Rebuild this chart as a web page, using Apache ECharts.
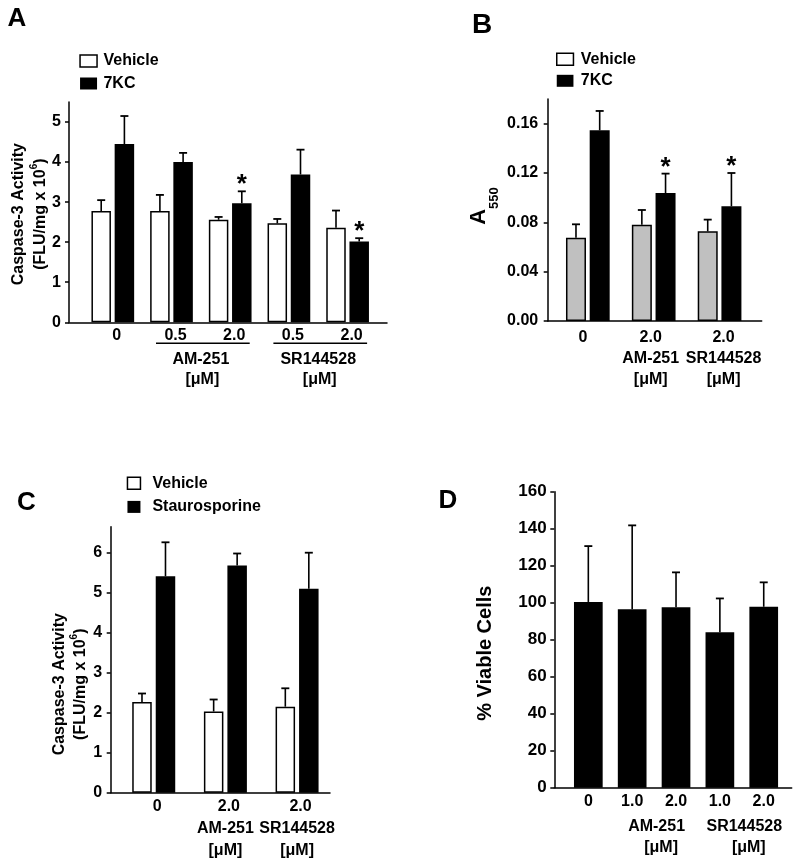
<!DOCTYPE html>
<html><head><meta charset="utf-8">
<script src="https://cdn.jsdelivr.net/npm/echarts@6/dist/echarts.min.js"></script>
<style>html,body{margin:0;padding:0;background:#fff}#c{width:800px;height:866px}</style>
</head><body><div id="c"></div>
<script>
const FONT = "'Liberation Sans', Arial, Helvetica, sans-serif";
const UNIT = '[μM]';

// ---------- Panel A : Caspase-3, 7KC ----------
const catsA = ['0', '0.5', '2.0', '0.5', '2.0'];
const vehicleA = [2.78, 2.78, 2.56, 2.47, 2.36];
const vehicleErrA = [0.27, 0.40, 0.07, 0.11, 0.43];
const kcA = [4.45, 4.00, 2.97, 3.69, 2.02];
const kcErrA = [0.70, 0.23, 0.30, 0.62, 0.08];
const kcSigA = [false, false, true, false, true];
const ticksA = [0, 1, 2, 3, 4, 5];
const groupNamesA = ['AM-251', 'SR144528'];
const groupSpansA = [[1, 2], [3, 4]];

// ---------- Panel B : A550, 7KC ----------
const catsB = ['0', '2.0\nAM-251\n' + UNIT, '2.0\nSR144528\n' + UNIT];
const vehicleB = [0.0676, 0.0781, 0.0727];
const vehicleErrB = [0.0108, 0.0119, 0.0095];
const kcB = [0.1546, 0.1038, 0.0930];
const kcErrB = [0.0157, 0.0157, 0.0270];
const kcSigB = [false, true, true];
const ticksB = [0, 0.04, 0.08, 0.12, 0.16];

// ---------- Panel C : Caspase-3, Staurosporine ----------
const catsC = ['0', '2.0\nAM-251\n' + UNIT, '2.0\nSR144528\n' + UNIT];
const vehicleC = [2.27, 2.03, 2.15];
const vehicleErrC = [0.21, 0.30, 0.46];
const stauC = [5.41, 5.68, 5.10];
const stauErrC = [0.85, 0.30, 0.90];
const ticksC = [0, 1, 2, 3, 4, 5, 6];

// ---------- Panel D : % viable cells ----------
const catsD = ['0', '1.0', '2.0', '1.0', '2.0'];
const viableD = [100.4, 96.4, 97.5, 84.0, 97.8];
const viableErrD = [30.2, 45.4, 18.9, 18.3, 13.2];
const ticksD = [0, 20, 40, 60, 80, 100, 120, 140, 160];
const groupNamesD = ['AM-251', 'SR144528'];
const groupSpansD = [[1, 2], [3, 4]];

const option = {
  animation: false, backgroundColor: '#fff',
  grid: [], xAxis: [], yAxis: [], series: [], legend: [], graphic: []
};
const BLACK = '#000';
const lineStyle = { color: BLACK, width: 1.5 };

function addPanel(p) {
  const gi = option.grid.length;
  option.grid.push({ left: p.axisX, top: p.top, width: p.axisRight - p.axisX, height: p.bottom - p.top });
  option.grid.push({ left: p.plotLeft, top: p.top, width: p.plotWidth, height: p.bottom - p.top });
  const xi = option.xAxis.length;
  option.xAxis.push({ gridIndex: gi, type: 'value', min: 0, max: 1,
    axisLine: { show: true, onZero: false, lineStyle }, axisTick: { show: false },
    axisLabel: { show: false }, splitLine: { show: false } });
  option.xAxis.push({ gridIndex: gi + 1, type: 'category', data: p.cats,
    axisLine: { show: false }, axisTick: { show: false },
    axisLabel: Object.assign({ interval: 0, color: BLACK, fontFamily: FONT, fontWeight: 'bold', fontSize: 16 }, p.xLabel) });
  const yi = option.yAxis.length;
  option.yAxis.push({ gridIndex: gi, type: 'value', min: p.min, max: p.max,
    axisLine: { show: true, onZero: false, lineStyle },
    axisTick: { show: true, length: 4, customValues: p.ticks, lineStyle },
    axisLabel: { customValues: p.ticks, formatter: p.fmt, margin: p.labelMargin, color: BLACK,
      fontFamily: FONT, fontWeight: 'bold', fontSize: p.tickFont },
    splitLine: { show: false },
    name: p.name, nameLocation: 'middle', nameRotate: 90, nameGap: p.nameGap,
    nameTextStyle: p.nameStyle });
  option.yAxis.push({ gridIndex: gi + 1, type: 'value', min: p.min, max: p.max, show: false });
  return { x: xi + 1, y: yi + 1, min: p.min };
}

function barSeries(ax, name, vals, w, gap, itemStyle) {
  return { type: 'bar', name, xAxisIndex: ax.x, yAxisIndex: ax.y, data: vals, barWidth: w,
    barGap: gap, itemStyle, silent: true, z: 2 };
}

function errorSeries(ax, vals, errs, offset) {
  return { type: 'custom', xAxisIndex: ax.x, yAxisIndex: ax.y, silent: true, clip: false, z: 5,
    data: vals.map((v, i) => [i, v, v + errs[i]]),
    encode: { x: 0, y: [1, 2] },
    renderItem: (params, api) => {
      const a = api.coord([api.value(0), api.value(1)]);
      const b = api.coord([api.value(0), api.value(2)]);
      const x = a[0] + offset;
      return { type: 'group', children: [
        { type: 'line', shape: { x1: x, y1: a[1], x2: x, y2: b[1] }, style: { stroke: BLACK, lineWidth: 1.6 } },
        { type: 'line', shape: { x1: x - 4, y1: b[1], x2: x + 4, y2: b[1] }, style: { stroke: BLACK, lineWidth: 1.8 } }
      ] };
    } };
}

function starSeries(ax, vals, errs, sig, offset) {
  const data = [];
  vals.forEach((v, i) => { if (sig[i]) data.push([i, v + errs[i]]); });
  return { type: 'custom', xAxisIndex: ax.x, yAxisIndex: ax.y, silent: true, clip: false, z: 6,
    data, encode: { x: 0, y: 1 },
    renderItem: (params, api) => {
      const a = api.coord([api.value(0), api.value(1)]);
      return { type: 'text', x: a[0] + offset, y: a[1] - 6,
        style: { text: '*', fill: BLACK, font: 'bold 26px ' + FONT, textAlign: 'center', textVerticalAlign: 'middle' } };
    } };
}

function groupSeries(ax, spans, names, o) {
  return { type: 'custom', xAxisIndex: ax.x, yAxisIndex: ax.y, silent: true, clip: false, z: 6,
    data: spans.map(s => [s[0], ax.min, s[1]]), encode: { x: 0, y: 1 },
    renderItem: (params, api) => {
      const a = api.coord([api.value(0), ax.min]);
      const b = api.coord([api.value(2), ax.min]);
      const mid = (a[0] + b[0]) / 2;
      const font = 'bold 16px ' + FONT;
      const ch = [];
      if (o.line) ch.push({ type: 'line', shape: { x1: a[0] - o.extL, y1: a[1] + o.lineDy, x2: b[0] + o.extR, y2: a[1] + o.lineDy },
        style: { stroke: BLACK, lineWidth: 1.5 } });
      ch.push({ type: 'text', x: mid + o.nameDx, y: a[1] + o.nameDy,
        style: { text: names[params.dataIndex], fill: BLACK, font, textAlign: 'center', textVerticalAlign: 'middle' } });
      ch.push({ type: 'text', x: mid + o.unitDx, y: a[1] + o.unitDy,
        style: { text: UNIT, fill: BLACK, font, textAlign: 'center', textVerticalAlign: 'middle' } });
      return { type: 'group', children: ch };
    } };
}

function legend(left, top, w, gap, pad, items) {
  return { left, top, orient: 'vertical', icon: 'rect', itemWidth: w, itemHeight: 12, itemGap: gap,
    selectedMode: false, padding: 0,
    textStyle: { color: BLACK, fontFamily: FONT, fontWeight: 'bold', fontSize: 16, lineHeight: 16, padding: [0, 0, 0, pad] },
    data: items };
}
// shift a category label horizontally (positive = right) via padding
function shifted(value, dx, extra) {
  const pad = dx >= 0 ? [0, 0, 0, 2 * dx] : [0, -2 * dx, 0, 0];
  return { value, textStyle: Object.assign({ padding: pad }, extra || {}) };
}
const vehicleLegend = { name: 'Vehicle', itemStyle: { color: '#fff', borderColor: BLACK, borderWidth: 1.5 } };
const whiteBar = { color: '#fff', borderColor: BLACK, borderWidth: 1.5 };
const greyBar = { color: '#c0c0c0', borderColor: BLACK, borderWidth: 1.5 };
const blackBar = { color: BLACK };

const casRich = {
  t: { fontFamily: FONT, fontWeight: 'bold', fontSize: 16, color: BLACK, verticalAlign: 'bottom' },
  s: { fontFamily: FONT, fontWeight: 'bold', fontSize: 10, lineHeight: 10, color: BLACK, verticalAlign: 'bottom', padding: [0, 0, 9, 0] }
};
const casName = '{t|Caspase-3 Activity}\n{t|(FLU/mg x 10}{s|6}{t|)}';

// ----- Panel A -----
const axA = addPanel({ axisX: 69, axisRight: 387, top: 102, bottom: 322.3, min: 0, max: 5.5,
  plotLeft: 83.45, plotWidth: 293.5, cats: catsA, ticks: ticksA, fmt: v => String(v), labelMargin: 8, tickFont: 16,
  xLabel: { margin: 5, padding: [0, 0, 0, 8] },
  name: casName, nameGap: 17,
  nameStyle: { lineHeight: 22, padding: [0, 4, 0, 0], rich: Object.assign({}, casRich, { t: Object.assign({}, casRich.t, { lineHeight: 22 }) }) } });
const wA = 19.5, gA = 3.7, offA = (wA + gA) / 2;
option.series.push(barSeries(axA, 'Vehicle', vehicleA, wA, (gA / wA * 100) + '%', whiteBar));
option.series.push(barSeries(axA, '7KC', kcA, wA, (gA / wA * 100) + '%', blackBar));
option.series.push(errorSeries(axA, vehicleA, vehicleErrA, -offA));
option.series.push(errorSeries(axA, kcA, kcErrA, offA));
option.series.push(starSeries(axA, kcA, kcErrA, kcSigA, offA));
option.series.push(groupSeries(axA, groupSpansA, groupNamesA,
  { line: true, extL: 15.5, extR: 19.5, lineDy: 21, nameDy: 37, nameDx: 0, unitDy: 57, unitDx: 1.5 }));
option.legend.push(legend(79.3, 53, 17, 6.5, 1.4, [vehicleLegend, { name: '7KC', itemStyle: blackBar }]));

// ----- Panel B -----
const axB = addPanel({ axisX: 547.7, axisRight: 761.7, top: 99, bottom: 321, min: 0, max: 0.18,
  plotLeft: 554.9, plotWidth: 197.6, cats: [shifted(catsB[0], -5), shifted(catsB[1], -3), shifted(catsB[2], 4)],
  ticks: ticksB, fmt: v => v.toFixed(2), labelMargin: 9.5, tickFont: 16,
  xLabel: { margin: 6.5, lineHeight: 21 },
  name: '{a|A}{s|550}', nameGap: 47,
  nameStyle: { padding: [0, 0, 0, 8], rich: {
    a: { fontFamily: FONT, fontWeight: 'bold', fontSize: 22, lineHeight: 22, color: BLACK, verticalAlign: 'bottom', padding: [0, 0, 11, 0] },
    s: { fontFamily: FONT, fontWeight: 'bold', fontSize: 13, lineHeight: 13, color: BLACK, verticalAlign: 'bottom' } } } });
const wB = 20, gB = 3.7, offB = (wB + gB) / 2;
option.series.push(barSeries(axB, 'Vehicle', vehicleB, wB, (gB / wB * 100) + '%', greyBar));
option.series.push(barSeries(axB, '7KC', kcB, wB, (gB / wB * 100) + '%', blackBar));
option.series.push(errorSeries(axB, vehicleB, vehicleErrB, -offB));
option.series.push(errorSeries(axB, kcB, kcErrB, offB));
option.series.push(starSeries(axB, kcB, kcErrB, kcSigB, offB));
option.legend.push(legend(556, 51.3, 16.7, 5.5, 2.3, [vehicleLegend, { name: '7KC', itemStyle: blackBar }]));

// ----- Panel C -----
const richC = {
  f: { fontFamily: FONT, fontWeight: 'bold', fontSize: 16, lineHeight: 22, color: BLACK, padding: [0, 0, 0, 7] },
  g: { fontFamily: FONT, fontWeight: 'bold', fontSize: 16, lineHeight: 22, color: BLACK }
};
const axC = addPanel({ axisX: 110.7, axisRight: 330, top: 526.7, bottom: 792.7, min: 0, max: 6.65,
  plotLeft: 117.9, plotWidth: 215, cats: catsC, ticks: ticksC, fmt: v => String(v), labelMargin: 8.5, tickFont: 16,
  xLabel: { margin: 3, lineHeight: 22, rich: richC,
    formatter: v => v.split('\n').map((s, i) => (i === 0 ? '{f|' : '{g|') + s + '}').join('\n') },
  name: casName, nameGap: 22,
  nameStyle: { lineHeight: 21, padding: [0, 49, 0, 0], rich: Object.assign({}, casRich, { t: Object.assign({}, casRich.t, { lineHeight: 21 }) }) } });
const wC = 19.5, gC = 4, offC = (wC + gC) / 2;
option.series.push(barSeries(axC, 'Vehicle', vehicleC, wC, (gC / wC * 100) + '%', whiteBar));
option.series.push(barSeries(axC, 'Staurosporine', stauC, wC, (gC / wC * 100) + '%', blackBar));
option.series.push(errorSeries(axC, vehicleC, vehicleErrC, -offC));
option.series.push(errorSeries(axC, stauC, stauErrC, offC));
option.legend.push(legend(126.7, 475.3, 13, 7.6, 7, [vehicleLegend, { name: 'Staurosporine', itemStyle: blackBar }]));

// ----- Panel D -----
const axD = addPanel({ axisX: 554.3, axisRight: 791.7, top: 491.7, bottom: 787.7, min: 0, max: 160,
  plotLeft: 566.4, plotWidth: 219.25, cats: catsD, ticks: ticksD, fmt: v => String(v), labelMargin: 7.6, tickFont: 17,
  xLabel: { margin: 6 },
  name: '% Viable Cells', nameGap: 59,
  nameStyle: { fontFamily: FONT, fontWeight: 'bold', fontSize: 20, lineHeight: 20, color: BLACK, padding: [0, 27, 0, 0] } });
option.series.push(barSeries(axD, '% Viable Cells', viableD, 28.7, '0%', blackBar));
option.series.push(errorSeries(axD, viableD, viableErrD, 0));
option.series.push(groupSeries(axD, groupSpansD, groupNamesD,
  { line: false, nameDy: 39, nameDx: 2.5, unitDy: 59.6, unitDx: 7 }));

// ----- Panel letters -----
[['A', 17, 19, 26], ['B', 482, 25, 28], ['C', 26.5, 502.5, 26], ['D', 448, 501, 26]].forEach(([t, x, y, s]) => {
  option.graphic.push({ type: 'text', x, y, silent: true,
    style: { text: t, fill: BLACK, font: 'bold ' + s + 'px ' + FONT, textAlign: 'center', textVerticalAlign: 'middle' } });
});

const chart = echarts.init(document.getElementById('c'), null, { renderer: 'canvas' });
chart.setOption(option);
</script></body></html>
